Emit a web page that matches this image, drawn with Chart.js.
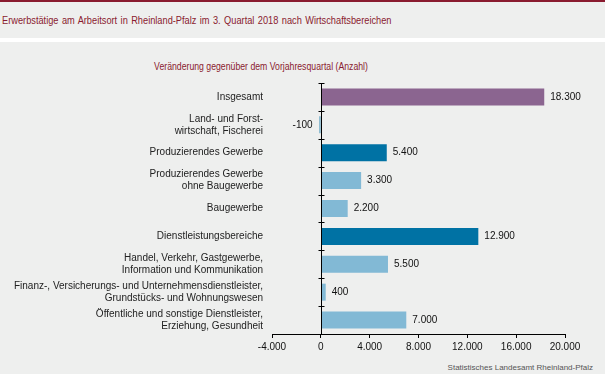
<!DOCTYPE html>
<html>
<head>
<meta charset="utf-8">
<script src="https://cdn.jsdelivr.net/npm/chart.js@4"></script>
<style>
    html, body { margin: 0; padding: 0; }
    body { width: 605px; height: 374px; background: #eeefee; position: relative; overflow: hidden;
           font-family: "Liberation Sans", Arial, sans-serif; }
    #topLine { position: absolute; left: 0; top: 0; width: 605px; height: 2px; background: #8a1b2f; }
    #whiteLine { position: absolute; left: 0; top: 38px; width: 605px; height: 4px; background: #ffffff; }
    #title { position: absolute; left: 2px; top: 14px; font-size: 11px; color: #8a1b2f; white-space: nowrap;
             word-spacing: 1px; transform: scaleX(0.84); transform-origin: left center; }
    #subtitle { position: absolute; left: 0; width: 522px; top: 61px; text-align: center; font-size: 10px; color: #8a1b2f;
                white-space: nowrap; transform: scaleX(0.87); transform-origin: 261px center; }
    #source { position: absolute; right: 12px; top: 363px; font-size: 8px; color: #555; }
    #chartBox { position: absolute; left: 0; top: 0; width: 605px; height: 374px; }
</style>
</head>
<body>
<div id="topLine"></div>
<div id="whiteLine"></div>
<div id="title">Erwerbstätige am Arbeitsort in Rheinland-Pfalz im 3. Quartal 2018 nach Wirtschaftsbereichen</div>
<div id="subtitle">Veränderung gegenüber dem Vorjahresquartal (Anzahl)</div>
<div id="source">Statistisches Landesamt Rheinland-Pfalz</div>
<div id="chartBox"><canvas id="chart"></canvas></div>

<script>
const categories = [
    ['Insgesamt'],
    ['Land- und Forst-', 'wirtschaft, Fischerei'],
    ['Produzierendes Gewerbe'],
    ['Produzierendes Gewerbe', 'ohne Baugewerbe'],
    ['Baugewerbe'],
    ['Dienstleistungsbereiche'],
    ['Handel, Verkehr, Gastgewerbe,', 'Information und Kommunikation'],
    ['Finanz-, Versicherungs- und Unternehmensdienstleister,', 'Grundstücks- und Wohnungswesen'],
    ['Öffentliche und sonstige Dienstleister,', 'Erziehung, Gesundheit']
];
const changes = [18300, -100, 5400, 3300, 2200, 12900, 5500, 400, 7000];
const barColors = ['#8b6590', '#0072a4', '#0072a4', '#82b9d5', '#82b9d5', '#0072a4', '#82b9d5', '#82b9d5', '#82b9d5'];
const xTicks = [-4000, 0, 4000, 8000, 12000, 16000, 20000];

const fontFamily = '"Liberation Sans", Arial, sans-serif';

function formatDe(value) {
    const sign = value < 0 ? '-' : '';
    const digits = Math.abs(Math.round(value)).toString();
    return sign + digits.replace(/\B(?=(\d{3})+(?!\d))/g, '.');
}

// zero line with small tick marks between the categories
const zeroLinePlugin = {
    id: 'zeroLine',
    afterDatasetsDraw(chart) {
        const ctx = chart.ctx;
        const xScale = chart.scales.x;
        const yScale = chart.scales.y;
        const x0 = Math.round(xScale.getPixelForValue(0)) + 0.5;
        ctx.save();
        ctx.strokeStyle = '#000';
        ctx.lineWidth = 1;
        ctx.beginPath();
        ctx.moveTo(x0, chart.chartArea.top);
        ctx.lineTo(x0, chart.chartArea.bottom);
        for (let i = 0; i <= categories.length; i++) {
            const y = Math.round(yScale.getPixelForValue(i - 0.5)) + 0.5;
            ctx.moveTo(x0 - 3, y);
            ctx.lineTo(x0 + 3, y);
        }
        ctx.stroke();
        ctx.restore();
    }
};

// value labels at the end of each bar
const valueLabelPlugin = {
    id: 'valueLabels',
    afterDatasetsDraw(chart) {
        const ctx = chart.ctx;
        const meta = chart.getDatasetMeta(0);
        ctx.save();
        ctx.font = '10px ' + fontFamily;
        ctx.fillStyle = '#111';
        ctx.textBaseline = 'middle';
        meta.data.forEach((bar, i) => {
            const v = changes[i];
            if (v < 0) {
                ctx.textAlign = 'right';
                ctx.fillText(formatDe(v), bar.x - 7, bar.y);
            } else {
                ctx.textAlign = 'left';
                ctx.fillText(formatDe(v), bar.x + 6, bar.y);
            }
        });
        ctx.restore();
    }
};

const ctx = document.getElementById('chart').getContext('2d');
new Chart(ctx, {
    type: 'bar',
    data: {
        labels: categories,
        datasets: [{
            data: changes,
            backgroundColor: barColors,
            borderWidth: 0,
            barPercentage: 0.61,
            categoryPercentage: 1
        }]
    },
    options: {
        indexAxis: 'y',
        responsive: true,
        maintainAspectRatio: false,
        animation: false,
        layout: { padding: { top: 83, right: 40, bottom: 0, left: 0 } },
        plugins: { legend: { display: false }, tooltip: { enabled: false }, title: { display: false } },
        scales: {
            x: {
                min: -4000,
                max: 20000,
                afterBuildTicks: (scale) => { scale.ticks = xTicks.map(v => ({ value: v })); },
                afterFit: (scale) => { scale.height = 40; },
                border: { display: true, color: '#000', width: 1 },
                grid: { drawOnChartArea: false, drawTicks: true, tickLength: 4, color: '#000' },
                ticks: {
                    color: '#111',
                    padding: 3,
                    font: { family: fontFamily, size: 10 },
                    callback: (value) => formatDe(value)
                }
            },
            y: {
                afterFit: (scale) => { scale.width = 272; },
                border: { display: false },
                grid: { display: false, drawTicks: false },
                ticks: {
                    color: '#222',
                    padding: 9,
                    font: { family: fontFamily, size: 10, lineHeight: 1.2 }
                }
            }
        }
    },
    plugins: [zeroLinePlugin, valueLabelPlugin]
});
</script>
</body>
</html>
